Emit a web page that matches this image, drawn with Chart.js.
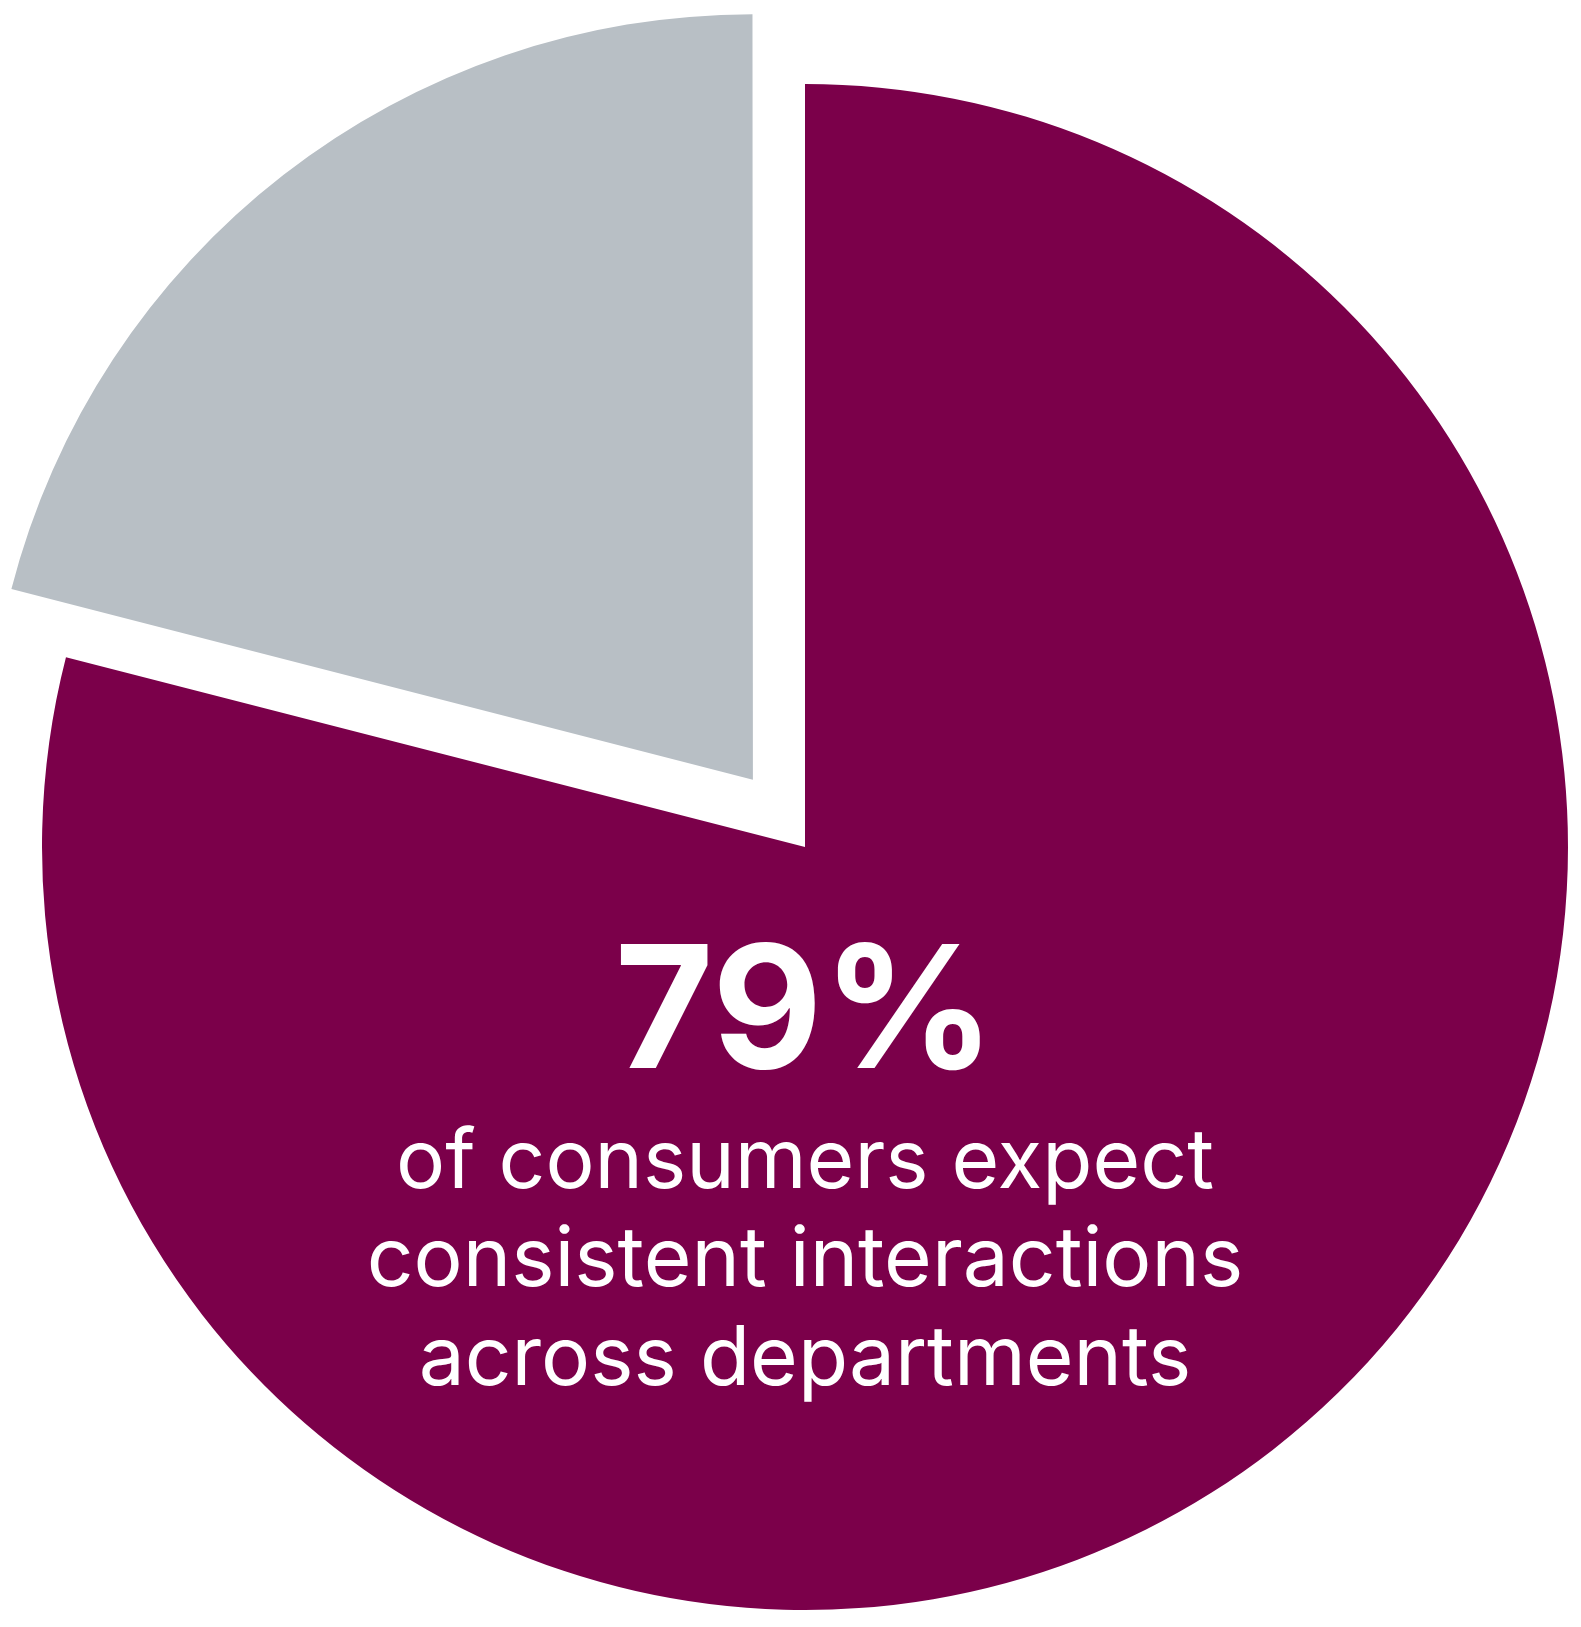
<!DOCTYPE html>
<html>
<head>
<meta charset="utf-8">
<script src="https://cdn.jsdelivr.net/npm/chart.js@4"></script>
<style>
  html, body { margin: 0; padding: 0; background: #fff; overflow: hidden; }
  #wrap { width: 1581px; height: 1627px; }
</style>
</head>
<body>
<div id="wrap"><canvas id="pie" width="1581" height="1627"></canvas></div>
<script>
// data
const labels = ["Expect consistent interactions", "Other"];
const values = [79, 21];
const colors = ["#7B004A", "#B8BFC5"];
const offsets = [0, 340];
const headline = "79%";
const captionLines = ["of consumers expect", "consistent interactions", "across departments"];

// center text
const centerText = {
  id: "centerText",
  afterDraw(chart) {
    const ctx = chart.ctx;
    const x = 805;
    ctx.save();
    ctx.fillStyle = "#fff";
    ctx.textAlign = "center";
    ctx.textBaseline = "alphabetic";
    ctx.font = "bold 170px Inter, 'Noto Sans', sans-serif";
    ctx.fillText(headline, x, 1068);
    ctx.font = "82px Inter, 'Noto Sans', sans-serif";
    const ys = [1188, 1286, 1385];
    captionLines.forEach((t, i) => ctx.fillText(t, x, ys[i]));
    ctx.restore();
  }
};

new Chart(document.getElementById("pie"), {
  type: "pie",
  data: {
    labels: labels,
    datasets: [{
      data: values,
      backgroundColor: colors,
      borderWidth: 0,
      offset: offsets
    }]
  },
  options: {
    responsive: false,
    animation: false,
    radius: 763,
    layout: { padding: { left: 29, right: 0, top: 67, bottom: 0 } },
    plugins: { legend: { display: false }, tooltip: { enabled: false } }
  },
  plugins: [centerText]
});
</script>
</body>
</html>
